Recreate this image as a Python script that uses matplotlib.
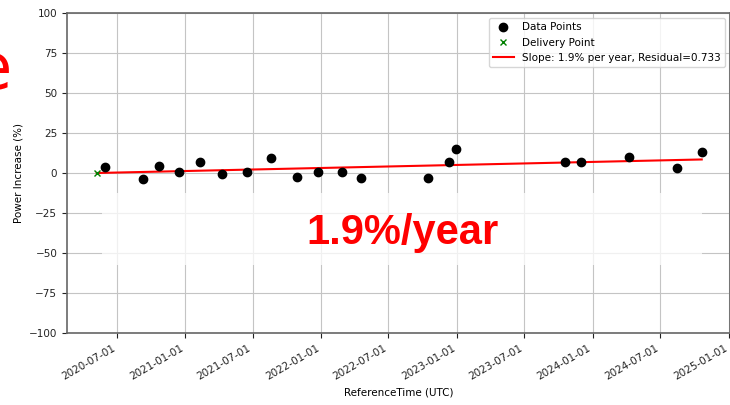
import matplotlib
matplotlib.use("Agg")
import matplotlib.pyplot as plt
import matplotlib.dates as mdates
import numpy as np
import pandas as pd
from matplotlib.patches import Rectangle

# ---- data ----
delivery_date = "2020-05-08"
delivery_value = 0.0
point_dates = ["2020-05-30", "2020-09-09", "2020-10-22", "2020-12-15", "2021-02-09",
               "2021-04-09", "2021-06-15", "2021-08-19", "2021-10-28", "2021-12-23",
               "2022-02-26", "2022-04-18", "2022-10-15", "2022-12-10", "2022-12-29",
               "2023-10-18", "2023-11-30", "2024-04-07", "2024-08-14", "2024-10-20"]
point_values = [3.8, -3.8, 4.4, 0.6, 6.9,
                -0.6, 0.9, 9.4, -2.5, 0.6,
                0.9, -3.1, -3.1, 6.9, 15.0,
                6.9, 6.9, 10.0, 3.1, 13.1]
slope_per_year = 1.9
residual = 0.733
tick_dates = ["2020-07-01", "2021-01-01", "2021-07-01", "2022-01-01", "2022-07-01",
              "2023-01-01", "2023-07-01", "2024-01-01", "2024-07-01", "2025-01-01"]
y_ticks = [-100, -75, -50, -25, 0, 25, 50, 75, 100]

plt.rcParams['font.family'] = ['DejaVu Sans']

fig = plt.figure(figsize=(7.3, 4.05), dpi=100)
ax = fig.add_axes([67/730, 72/405, 663/730, 320/405])

pdates = pd.to_datetime(point_dates)
ddate = pd.to_datetime(delivery_date)

ax.plot(pdates, point_values, 'o', color='black', markersize=6, label='Data Points', zorder=3)
ax.plot([ddate], [delivery_value], 'x', color='green', markersize=5, label='Delivery Point', zorder=3)

# fit line from delivery to last point
line_x = pd.to_datetime([delivery_date, point_dates[-1]])
yrs = (line_x - ddate).days / 365.25
line_y = delivery_value + slope_per_year * np.asarray(yrs)
ax.plot(line_x, line_y, '-', color='red', lw=1.5,
        label=f'Slope: {slope_per_year}% per year, Residual={residual}', zorder=2)

ax.set_ylim(-100, 100)
ax.set_yticks(y_ticks)
ax.set_xlim(pd.Timestamp("2020-02-18"), pd.Timestamp("2025-01-04"))
ax.set_xticks(pd.to_datetime(tick_dates))
ax.xaxis.set_major_formatter(mdates.DateFormatter('%Y-%m-%d'))
for lab in ax.get_xticklabels():
    lab.set_rotation(30)
    lab.set_ha('right')
ax.tick_params(labelsize=7.5, colors='#222222')
ax.grid(True, color='#c4c4c4', lw=0.8)
ax.set_axisbelow(True)
for s in ax.spines.values():
    s.set_color('#666666')
    s.set_linewidth(1.2)

ax.set_xlabel('ReferenceTime (UTC)', fontsize=7.5)
ax.set_ylabel('Power Increase (%)', fontsize=7.5)

ax.legend(loc='upper right', fontsize=7.5, framealpha=0.8)

# white translucent box and annotation
ax.add_patch(Rectangle((0.053, 0.2125), 0.905, 0.225, transform=ax.transAxes,
                       facecolor='white', edgecolor='none', alpha=0.75, zorder=4))
ax.text(0.506, 0.314, f'{slope_per_year}%/year', transform=ax.transAxes,
        ha='center', va='center', fontsize=30, fontweight='bold', color='red',
        family='Liberation Sans', zorder=5)

# clipped red text at left edge (as in the reference)
fig.text(12/730, 1 - 71/405, 'e', ha='right', va='center', fontsize=46, color='red')

fig.savefig('out.png', dpi=100)
